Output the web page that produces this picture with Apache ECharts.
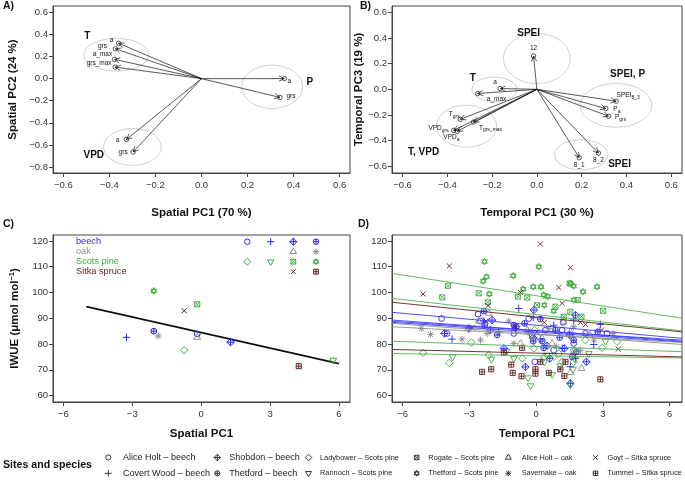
<!DOCTYPE html>
<html>
<head>
<meta charset="utf-8">
<script src="https://cdn.jsdelivr.net/npm/echarts@6/dist/echarts.min.js"></script>
<style>
  html, body { margin: 0; padding: 0; background: #fff; }
  #chart { width: 685px; height: 485px; }
</style>
</head>
<body>
<div id="chart"></div>
<script>
// ---------- A) spatial PCA loadings
const spatialTags = ['a', 'grs', 'a_max', 'grs_max', 'a', 'grs', 'a', 'grs'];
const spatialPC1Load = [-0.36, -0.374, -0.378, -0.375, 0.36, 0.341, -0.326, -0.297];
const spatialPC2Load = [0.32, 0.27, 0.174, 0.104, 0.0, -0.17, -0.55, -0.664];
const spatialGroups = ['T', 'P', 'VPD'];
const spatialGroupX = [-0.496, 0.471, -0.468];
const spatialGroupY = [0.38, -0.03, -0.69];
// centre x, centre y, half width, half height
const spatialEllipses = [[-0.37, 0.216, 0.14, 0.148], [0.307, -0.074, 0.132, 0.196], [-0.30, -0.618, 0.125, 0.166]];

// ---------- B) temporal PCA loadings
const temporalTags = ['12', 'a', 'a_max', 'T|grs', 'T|grs_max', 'VPD|grs', 'VPD|a', 'SPEI|8_3', 'P|a', 'P|grs', '8_1', '8_2'];
const temporalPC1Load = [-0.015, -0.164, -0.265, -0.342, -0.283, -0.372, -0.355, 0.354, 0.308, 0.32, 0.189, 0.275];
const temporalPC3Load = [0.26, 0.006, -0.033, -0.234, -0.255, -0.32, -0.327, -0.093, -0.15, -0.21, -0.533, -0.497];
const temporalGroups = ['SPEI', 'T', 'SPEI, P', 'T, VPD', 'SPEI'];
const temporalGroupX = [-0.037, -0.286, 0.405, -0.506, 0.369];
const temporalGroupY = [0.436, 0.084, 0.118, -0.489, -0.585];
const temporalEllipses = [[0.0, 0.24, 0.149, 0.195], [-0.19, 0.0, 0.1, 0.095], [-0.314, -0.287, 0.134, 0.163],
  [0.353, -0.125, 0.16, 0.17], [0.198, -0.51, 0.119, 0.117]];

// ---------- sites
const siteNames = ['Alice Holt – beech', 'Covert Wood – beech', 'Shobdon – beech', 'Thetford – beech',
  'Ladybower – Scots pine', 'Rannoch – Scots pine', 'Rogate – Scots pine', 'Thetford – Scots pine',
  'Alice Holt – oak', 'Savernake – oak', 'Goyt – Sitka spruce', 'Tummel – Sitka spruce'];
const siteSpecies = ['beech', 'beech', 'beech', 'beech', 'Scots pine', 'Scots pine', 'Scots pine', 'Scots pine',
  'oak', 'oak', 'Sitka spruce', 'Sitka spruce'];

// ---------- C) site means vs spatial PC1
const spatialPC1 = [-0.17, -3.25, 1.28, -2.06, -0.74, 5.75, -0.17, -2.06, -0.17, -1.87, -0.74, 4.25];
const spatialIWUE = [83.9, 82.6, 80.7, 85.0, 77.6, 73.7, 95.4, 100.6, 82.6, 83.1, 92.9, 71.4];
const spatialFitX = [-5, 6];
const spatialFitY = [94.5, 72.4];

// ---------- D) yearly values vs temporal PC1
const tempAliceHoltBeech = [[-4.25, 89.9], [-2.61, 91.6], [-2.5, 88.9], [-4.0, 84.1], [-0.33, 89.9], [-0.18, 83.5], [1.21, 88.4], [1.69, 80.2], [2.22, 84.1], [3.19, 84.1], [1.17, 85.4], [-0.06, 73.1], [0.79, 77.6], [0.42, 85.4], [-1.0, 84.1]];
const tempCovertWood = [[-3.78, 81.9], [-0.78, 93.8], [-0.13, 90.2], [0.19, 81.9], [1.69, 89.3], [2.59, 79.8], [2.89, 87.6], [1.17, 78.3], [1.77, 74.4], [1.54, 71.2], [-0.93, 86.0], [-2.35, 88.9], [0.79, 87.3], [-1.68, 84.7]];
const tempShobdon = [[-4.12, 84.1], [-3.03, 86.0], [-1.98, 89.3], [-1.45, 78.3], [-0.48, 71.1], [-0.13, 82.4], [-0.1, 93.2], [0.61, 74.4], [1.54, 64.7], [2.26, 73.1], [1.77, 91.2], [1.51, 83.5], [0.49, 79.3], [-0.9, 86.7], [1.27, 78.3], [-2.05, 85.4]];
const tempThetfordBeech = [[-2.35, 92.8], [-0.52, 88.0], [-0.13, 81.1], [0.27, 81.1], [0.87, 85.4], [1.69, 81.5], [1.81, 77.0], [1.62, 75.0], [2.77, 84.7], [1.06, 82.5], [0.34, 78.5], [-2.31, 87.3], [-1.75, 83.5], [-1.0, 87.3], [0.19, 89.7]];
const tempLadybower = [[-5.08, 76.6], [-3.9, 72.7], [-2.91, 80.6], [-2.13, 75.7], [-0.63, 74.4], [-0.1, 78.3], [-0.07, 85.4], [0.37, 75.0], [0.79, 75.0], [1.17, 73.1], [1.69, 73.1], [2.22, 81.5], [2.97, 78.5], [3.64, 80.9], [1.69, 77.6], [1.02, 76.3]];
const tempRannoch = [[-3.75, 75.0], [-2.01, 74.1], [-1.33, 77.2], [-0.36, 66.9], [-0.25, 63.8], [0.37, 73.1], [0.72, 68.2], [1.09, 71.5], [1.54, 64.2], [1.66, 70.2], [1.74, 74.1], [2.37, 76.3], [3.12, 81.1], [-1.0, 74.4], [0.49, 75.7]];
const tempRogate = [[-3.96, 102.6], [-4.22, 98.1], [-2.58, 99.7], [-2.17, 96.2], [-0.81, 98.4], [-0.4, 98.0], [0.04, 95.1], [0.87, 94.5], [1.51, 103.5], [1.87, 97.1], [3.01, 92.9], [1.54, 92.5], [2.04, 90.6], [1.24, 90.6]];
const tempThetfordPine = [[-2.32, 112.0], [-2.23, 106.1], [-2.38, 104.4], [-2.1, 99.4], [-1.03, 106.5], [0.12, 110.0], [-0.13, 102.2], [-0.58, 101.3], [0.22, 102.2], [0.34, 99.0], [0.52, 98.4], [1.54, 103.5], [1.69, 102.5], [2.11, 100.3], [2.74, 102.2], [0.79, 92.8], [0.37, 95.1], [1.69, 97.1]];
const tempAliceHoltOak = [[2.04, 70.5], [1.54, 68.9], [-2.13, 91.9], [0.27, 82.2], [0.72, 80.2], [1.24, 88.6], [-0.7, 80.2], [-2.58, 88.9], [1.54, 84.7], [-0.4, 85.4], [2.41, 83.5], [1.69, 77.0]];
const tempSavernake = [[-5.15, 86.0], [-4.75, 83.7], [-3.33, 81.9], [-2.5, 81.5], [-2.2, 84.1], [-1.23, 88.9], [-1.0, 80.2], [-0.36, 84.5], [0.57, 86.0], [0.91, 78.9], [1.99, 77.6], [3.46, 84.1], [1.69, 86.7], [-0.18, 82.2], [2.6, 81.5]];
const tempGoyt = [[-5.08, 99.4], [-3.9, 110.3], [0.19, 118.8], [1.54, 109.6], [1.02, 101.9], [-0.7, 100.0], [-2.16, 94.9], [1.17, 95.8], [-2.25, 88.9], [0.37, 88.4], [1.99, 88.4], [2.22, 87.6], [-0.93, 86.7], [0.04, 84.5], [-2.88, 86.3], [2.94, 85.4], [3.69, 78.0]];
const tempTummel = [[-2.43, 69.2], [-2.02, 70.2], [-1.45, 76.7], [-1.12, 72.0], [-1.05, 68.8], [-0.66, 67.5], [-0.63, 78.5], [-0.03, 70.2], [-0.03, 68.5], [0.19, 73.1], [0.57, 68.8], [1.09, 70.2], [1.27, 67.6], [1.32, 73.1], [2.89, 66.3]];
const temporalPoints = [tempAliceHoltBeech, tempCovertWood, tempShobdon, tempThetfordBeech, tempLadybower, tempRannoch,
  tempRogate, tempThetfordPine, tempAliceHoltOak, tempSavernake, tempGoyt, tempTummel];
// per-site fitted lines, value at left and right edge of the panel
const temporalFitX = [-6.48, 6.56];
const temporalFitLeft = [88.8, 89.3, 88.4, 92.3, 81.1, 76.3, 97.7, 107.4, 86.7, 88.0, 96.2, 77.9];
const temporalFitRight = [81.5, 81.1, 80.8, 82.2, 77.0, 74.6, 85.1, 90.0, 80.6, 79.8, 84.7, 75.0];

// ---------- ticks
const pcaTicksX = [-0.6, -0.4, -0.2, 0, 0.2, 0.4, 0.6];
const spatialTicksY = [-0.8, -0.6, -0.4, -0.2, 0, 0.2, 0.4, 0.6];
const temporalTicksY = [-0.6, -0.4, -0.2, 0, 0.2, 0.4, 0.6];
const pcTicks = [-6, -3, 0, 3, 6];
const iwueTicks = [60, 70, 80, 90, 100, 110, 120];

// ---------- styles
const FONT = '"Liberation Sans", Arial, Helvetica, sans-serif';
const speciesColor = { 'beech': '#2323ff', 'oak': '#8c8c8c', 'Scots pine': '#3fab3f', 'Sitka spruce': '#5e1f1f' };
const lineColor = { 'beech': '#3a3aff', 'oak': '#8c8c8c', 'Scots pine': '#4cb34c', 'Sitka spruce': '#5e1f1f' };
const siteSymbol = ['circle', 'plus', 'diamondPlus', 'circlePlus', 'diamond', 'triDown', 'squareCross', 'star6',
  'triUp', 'asterisk', 'cross', 'squarePlus'];
// label offsets (px) from the loading point
const tagOffsetA = [[-7, -3], [-13, -3], [-12, -5], [-16, -4], [5, 3], [11, -1], [-9, 1], [-10, 0]];
const tagOffsetB = [[0, -8], [-5, -6], [19, 6], [-6, -5], [17, 6], [-15, -2], [-6, 6], [12, -6], [11, 1], [12, 1], [0, 7], [0, 7]];

function symbolEls(kind, x, y, s, color, w, op) {
  const st = { fill: 'none', stroke: color, lineWidth: w, opacity: op };
  const L = (x1, y1, x2, y2) => ({ type: 'line', shape: { x1, y1, x2, y2 }, style: st });
  const P = pts => ({ type: 'polygon', shape: { points: pts }, style: st });
  const C = r => ({ type: 'circle', shape: { cx: x, cy: y, r }, style: st });
  const plus = k => [L(x - k, y, x + k, y), L(x, y - k, x, y + k)];
  const cross = k => [L(x - k, y - k, x + k, y + k), L(x - k, y + k, x + k, y - k)];
  const up = k => P([[x - k, y + 0.58 * k], [x + k, y + 0.58 * k], [x, y - 1.15 * k]]);
  const down = k => P([[x - k, y - 0.58 * k], [x + k, y - 0.58 * k], [x, y + 1.15 * k]]);
  const sq = k => ({ type: 'rect', shape: { x: x - k, y: y - k, width: 2 * k, height: 2 * k }, style: st });
  const dia = k => P([[x, y - k], [x + k, y], [x, y + k], [x - k, y]]);
  switch (kind) {
    case 'circle': return [C(s * 0.85)];
    case 'plus': return plus(s * 1.1);
    case 'diamondPlus': return [dia(s * 1.1), ...plus(s * 1.1)];
    case 'circlePlus': return [C(s * 0.85), ...plus(s * 0.85)];
    case 'diamond': return [dia(s * 1.1)];
    case 'triDown': return [down(s)];
    case 'triUp': return [up(s)];
    case 'squareCross': return [sq(s * 0.75), ...cross(s * 0.75)];
    case 'star6': return [up(s * 0.85), down(s * 0.85)];
    case 'asterisk': return [...plus(s), ...cross(s * 0.72)];
    case 'cross': return cross(s * 0.75);
    default: return [sq(s * 0.75), ...plus(s * 0.75)];
  }
}

const measureCtx = document.createElement('canvas').getContext('2d');
function measure(text, size) {
  measureCtx.font = size + 'px ' + FONT;
  return measureCtx.measureText(text).width;
}

// a tag "base|sub" is drawn as base text with a small subscript after it
function tagEls(tag, x, y) {
  const parts = tag.split('|');
  const base = { text: parts[0], fontSize: 6.5, fontFamily: FONT, fill: '#111', verticalAlign: 'middle' };
  if (parts.length === 1) {
    return [{ type: 'text', x, y, style: Object.assign({ align: 'center' }, base) }];
  }
  const wBase = measure(parts[0], 6.5), wSub = measure(parts[1], 5);
  const left = x - (wBase + wSub) / 2;
  return [
    { type: 'text', x: left, y, style: Object.assign({ align: 'left' }, base) },
    { type: 'text', x: left + wBase, y: y + 2, style: { text: parts[1], fontSize: 5, fontFamily: FONT, fill: '#111', align: 'left', verticalAlign: 'middle' } }
  ];
}

function arrowRenderer(tags, offsets) {
  return function (params, api) {
    const i = params.dataIndex;
    const o = api.coord([0, 0]);
    const p = api.coord([api.value(0), api.value(1)]);
    const ang = Math.atan2(p[1] - o[1], p[0] - o[0]);
    const hl = 6, ha = Math.PI / 7;
    const st = { stroke: '#111', lineWidth: 0.7, fill: 'none' };
    const h1 = [p[0] - hl * Math.cos(ang - ha), p[1] - hl * Math.sin(ang - ha)];
    const h2 = [p[0] - hl * Math.cos(ang + ha), p[1] - hl * Math.sin(ang + ha)];
    return {
      type: 'group',
      children: [
        { type: 'line', shape: { x1: o[0], y1: o[1], x2: p[0], y2: p[1] }, style: st },
        { type: 'polyline', shape: { points: [h1, p, h2] }, style: st },
        { type: 'circle', shape: { cx: p[0], cy: p[1], r: 2.2 }, style: st }
      ].concat(tagEls(tags[i], p[0] + offsets[i][0], p[1] + offsets[i][1]))
    };
  };
}

function ellipseRenderer(params, api) {
  const c = api.coord([api.value(0), api.value(1)]);
  const s = api.size([api.value(2), api.value(3)]);
  return { type: 'ellipse', shape: { cx: c[0], cy: c[1], rx: s[0], ry: s[1] }, style: { fill: 'none', stroke: '#c4c4c4', lineWidth: 0.8 } };
}

function groupLabelRenderer(names) {
  return function (params, api) {
    const p = api.coord([api.value(0), api.value(1)]);
    return {
      type: 'text', x: p[0], y: p[1],
      style: { text: names[params.dataIndex], fontSize: 10, fontWeight: 'bold', fontFamily: FONT, fill: '#111', align: 'center', verticalAlign: 'middle' }
    };
  };
}

function siteRenderer(kind, color, size, op) {
  return function (params, api) {
    const p = api.coord([api.value(0), api.value(1)]);
    return { type: 'group', children: symbolEls(kind, p[0], p[1], size, color, 1, op) };
  };
}

const pcaFmt = v => (v < 0 ? '−' : '') + Math.abs(v).toFixed(1);
const intFmt = v => (v < 0 ? '−' : '') + Math.abs(v);

function valAxis(gridIndex, min, max, ticks, fmt, name, gap, margin) {
  return {
    type: 'value', gridIndex, min, max, name, nameLocation: 'middle', nameGap: gap,
    nameTextStyle: { fontFamily: FONT, fontSize: 11.5, fontWeight: 'bold', color: '#111' },
    axisLine: { show: true, onZero: false, lineStyle: { color: '#444', width: 1 } },
    axisTick: { show: true, inside: false, length: 4, customValues: ticks, lineStyle: { color: '#444' } },
    axisLabel: { show: true, customValues: ticks, formatter: fmt, fontFamily: FONT, fontSize: 9.5, color: '#333', margin },
    splitLine: { show: false }
  };
}

const gridBox = { show: true, borderColor: '#444', borderWidth: 1, backgroundColor: 'transparent' };
const grids = [
  Object.assign({ left: 53, top: 6, width: 297, height: 167 }, gridBox),
  Object.assign({ left: 392, top: 6, width: 290, height: 167 }, gridBox),
  Object.assign({ left: 53, top: 235, width: 297, height: 167 }, gridBox),
  Object.assign({ left: 392, top: 235, width: 290, height: 167 }, gridBox)
];

const iwueName = '{t|IWUE (}{m|μ}{t|mol mol}{s|−1}{t|)}';
const xAxes = [
  valAxis(0, -0.645, 0.645, pcaTicksX, pcaFmt, 'Spatial PC1 (70 %)', 34, 7),
  valAxis(1, -0.647, 0.648, pcaTicksX, pcaFmt, 'Temporal PC1 (30 %)', 34, 7),
  valAxis(2, -6.45, 6.48, pcTicks, intFmt, 'Spatial PC1', 26, 7),
  valAxis(3, -6.48, 6.56, pcTicks, intFmt, 'Temporal PC1', 26, 7)
];
const yAxes = [
  valAxis(0, -0.854, 0.657, spatialTicksY, pcaFmt, 'Spatial PC2 (24 %)', 34, 5),
  valAxis(1, -0.652, 0.649, temporalTicksY, pcaFmt, 'Temporal PC3 (19 %)', 26, 5),
  valAxis(2, 57.5, 122.3, iwueTicks, intFmt, iwueName, 31, 5),
  valAxis(3, 57.5, 122.3, iwueTicks, intFmt, '', 30, 5)
];
yAxes[2].nameTextStyle.rich = {
  t: { fontFamily: FONT, fontSize: 11.5, fontWeight: 'bold', color: '#111', lineHeight: 14 },
  m: { fontFamily: FONT, fontSize: 11.5, color: '#111', lineHeight: 14 },
  s: { fontFamily: FONT, fontSize: 7.5, fontWeight: 'bold', color: '#111', lineHeight: 8, verticalAlign: 'top' }
};

const series = [];
// A
series.push({ type: 'custom', xAxisIndex: 0, yAxisIndex: 0, encode: { x: 0, y: 1 }, data: spatialEllipses, renderItem: ellipseRenderer });
series.push({ type: 'custom', xAxisIndex: 0, yAxisIndex: 0, encode: { x: 0, y: 1 },
  data: spatialPC1Load.map((x, i) => [x, spatialPC2Load[i]]), renderItem: arrowRenderer(spatialTags, tagOffsetA) });
series.push({ type: 'custom', xAxisIndex: 0, yAxisIndex: 0, encode: { x: 0, y: 1 },
  data: spatialGroupX.map((x, i) => [x, spatialGroupY[i]]), renderItem: groupLabelRenderer(spatialGroups) });
// B
series.push({ type: 'custom', xAxisIndex: 1, yAxisIndex: 1, encode: { x: 0, y: 1 }, data: temporalEllipses, renderItem: ellipseRenderer });
series.push({ type: 'custom', xAxisIndex: 1, yAxisIndex: 1, encode: { x: 0, y: 1 },
  data: temporalPC1Load.map((x, i) => [x, temporalPC3Load[i]]), renderItem: arrowRenderer(temporalTags, tagOffsetB) });
series.push({ type: 'custom', xAxisIndex: 1, yAxisIndex: 1, encode: { x: 0, y: 1 },
  data: temporalGroupX.map((x, i) => [x, temporalGroupY[i]]), renderItem: groupLabelRenderer(temporalGroups) });
// C
series.push({ type: 'line', xAxisIndex: 2, yAxisIndex: 2, showSymbol: false, silent: true,
  data: spatialFitX.map((x, i) => [x, spatialFitY[i]]), lineStyle: { color: '#111', width: 1.6 }, z: 3 });
siteNames.forEach((name, i) => {
  series.push({ type: 'custom', name, xAxisIndex: 2, yAxisIndex: 2, encode: { x: 0, y: 1 }, z: 4,
    data: [[spatialPC1[i], spatialIWUE[i]]], renderItem: siteRenderer(siteSymbol[i], speciesColor[siteSpecies[i]], 3.4, 1) });
});
// D
siteNames.forEach((name, i) => {
  series.push({ type: 'custom', name, xAxisIndex: 3, yAxisIndex: 3, encode: { x: 0, y: 1 }, z: 2,
    data: temporalPoints[i], renderItem: siteRenderer(siteSymbol[i], speciesColor[siteSpecies[i]], 3.4, 0.9) });
});
siteNames.forEach((name, i) => {
  series.push({ type: 'line', xAxisIndex: 3, yAxisIndex: 3, showSymbol: false, silent: true, z: 3,
    data: [[temporalFitX[0], temporalFitLeft[i]], [temporalFitX[1], temporalFitRight[i]]],
    lineStyle: { color: lineColor[siteSpecies[i]], width: 0.9 } });
});

// ---------- graphic: panel letters, legends
const graphics = [];
const txt = (x, y, text, size, opts) => Object.assign({
  type: 'text', x, y,
  style: Object.assign({ text, fontSize: size, fontFamily: FONT, fill: '#111', align: 'left', verticalAlign: 'middle' }, opts || {})
});
[['A)', 3, 6], ['B)', 360, 6], ['C)', 3, 224], ['D)', 358, 224]].forEach(d => graphics.push(txt(d[1], d[2], d[0], 10.5, { fontWeight: 'bold' })));

// legend inside C
const speciesRows = ['beech', 'oak', 'Scots pine', 'Sitka spruce'];
const rowY = [241.7, 251.7, 261.7, 271.7];
const colX = [247.3, 270.7, 293.3, 316];
const legendCols = [[0, 1, 2, 3], [null, null, 8, 9], [4, 5, 6, 7], [null, null, 10, 11]];
speciesRows.forEach((sp, r) => {
  graphics.push(txt(76, rowY[r], sp, 9.2, { fill: speciesColor[sp] }));
  legendCols[r].forEach((site, c) => {
    if (site === null) return;
    graphics.push({ type: 'group', children: symbolEls(siteSymbol[site], colX[c], rowY[r], 3.2, speciesColor[sp], 1, 1) });
  });
});

// bottom legend
graphics.push(txt(3, 465, 'Sites and species', 10.6, { fontWeight: 'bold' }));
const legSymX = [108.3, 217.3, 308.5, 416.7, 508.3, 595.5];
const legTextX = [123, 229.3, 320, 428.3, 521.7, 607.5];
const legSize = [9, 9, 7.4, 7.4, 7.3, 7.3];
const legRowY = [457.5, 473.3];
siteNames.forEach((name, i) => {
  const c = Math.floor(i / 2), r = i % 2;
  graphics.push({ type: 'group', children: symbolEls(siteSymbol[i], legSymX[c], legRowY[r], 3, '#222', 0.9, 1) });
  graphics.push(txt(legTextX[c], legRowY[r], name, legSize[c], { fill: '#222' }));
});

const chart = echarts.init(document.getElementById('chart'), null, { renderer: 'canvas' });
chart.setOption({
  animation: false,
  backgroundColor: '#ffffff',
  textStyle: { fontFamily: FONT },
  grid: grids,
  xAxis: xAxes,
  yAxis: yAxes,
  series,
  graphic: { elements: graphics }
});
</script>
</body>
</html>
